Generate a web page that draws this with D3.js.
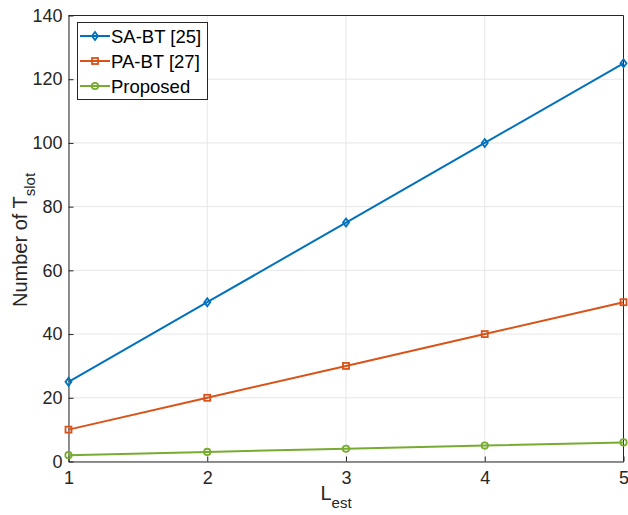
<!DOCTYPE html>
<html><head><meta charset="utf-8">
<script src="https://cdn.jsdelivr.net/npm/d3@7"></script>
<style>body{margin:0;background:#fff}svg{font-family:"Liberation Sans",Arial,sans-serif}</style>
</head><body><svg id="c" width="628" height="515"></svg>
<script>
const xValues = [1, 2, 3, 4, 5];
const saBT = [25, 50, 75, 100, 125];
const paBT = [10, 20, 30, 40, 50];
const proposed = [2, 3, 4, 5, 6];
const xTicks = [1, 2, 3, 4, 5];
const yTicks = [0, 20, 40, 60, 80, 100, 120, 140];
const seriesNames = ["SA-BT [25]", "PA-BT [27]", "Proposed"];
const colors = ["#0072BD", "#D95319", "#77AC30"];

const svg = d3.select("#c");
const L = 68.5, R = 623.5, T = 15.5, B = 461.5;
const x = d3.scaleLinear().domain([1, 5]).range([L, R]);
const y = d3.scaleLinear().domain([0, 140]).range([B, T]);

// grid
const g = svg.append("g");
xTicks.forEach(t => g.append("line").attr("x1", x(t)).attr("x2", x(t)).attr("y1", T).attr("y2", B).attr("stroke", "#e6e6e6").attr("stroke-width", 1));
yTicks.forEach(t => g.append("line").attr("x1", L).attr("x2", R).attr("y1", y(t)).attr("y2", y(t)).attr("stroke", "#e6e6e6").attr("stroke-width", 1));

// axes
const xa = svg.append("g").attr("transform", `translate(0,${B})`)
  .call(d3.axisBottom(x).tickValues(xTicks).tickFormat(d3.format("d")).tickSizeInner(-5).tickSizeOuter(0).tickPadding(10));
const ya = svg.append("g").attr("transform", `translate(${L},0)`)
  .call(d3.axisLeft(y).tickValues(yTicks).tickFormat(d3.format("d")).tickSizeInner(-5).tickSizeOuter(0).tickPadding(6));
[xa, ya].forEach(a => {
  a.select(".domain").attr("stroke", "#262626");
  a.selectAll(".tick line").attr("stroke", "#262626");
  a.selectAll("text").attr("fill", "#262626").attr("font-size", 18).attr("font-family", "Liberation Sans, Arial, sans-serif");
});
// top & right box
svg.append("line").attr("x1", L).attr("x2", R).attr("y1", T).attr("y2", T).attr("stroke", "#262626");
svg.append("line").attr("x1", R).attr("x2", R).attr("y1", T).attr("y2", B).attr("stroke", "#262626");

// lines
const series = [saBT, paBT, proposed];
const line = d3.line().x((d, i) => x(xValues[i])).y(d => y(d));
function marker(sel, k, cx, cy) {
  const c = colors[k];
  if (k === 0) {
    sel.append("path").attr("d", `M${cx},${cy-4}L${cx+3},${cy}L${cx},${cy+4}L${cx-3},${cy}Z`).attr("fill", "none").attr("stroke", c).attr("stroke-width", 1.8);
  } else if (k === 1) {
    sel.append("rect").attr("x", cx-3).attr("y", cy-3).attr("width", 6).attr("height", 6).attr("fill", "none").attr("stroke", c).attr("stroke-width", 1.8);
  } else {
    sel.append("circle").attr("cx", cx).attr("cy", cy).attr("r", 3.2).attr("fill", "none").attr("stroke", c).attr("stroke-width", 1.8);
  }
}
series.forEach((s, k) => {
  svg.append("path").datum(s).attr("d", line).attr("fill", "none").attr("stroke", colors[k]).attr("stroke-width", 2);
  s.forEach((v, i) => marker(svg, k, x(xValues[i]), y(v)));
});

// legend
const lg = svg.append("g");
lg.append("rect").attr("x", 77.5).attr("y", 22.5).attr("width", 130).attr("height", 77).attr("fill", "#fff").attr("stroke", "#262626").attr("stroke-width", 1);
seriesNames.forEach((n, k) => {
  const yy = 36 + k * 25;
  lg.append("line").attr("x1", 80).attr("x2", 110).attr("y1", yy).attr("y2", yy).attr("stroke", colors[k]).attr("stroke-width", 2);
  marker(lg, k, 95, yy);
  lg.append("text").attr("x", 111).attr("y", yy + 6.5).attr("font-size", 18.5).attr("fill", "#000").text(n);
});

// axis labels
const xl = svg.append("text").attr("x", 336).attr("y", 500).attr("font-size", 20).attr("fill", "#262626").attr("text-anchor", "middle");
xl.append("tspan").text("L");
xl.append("tspan").attr("font-size", 15).attr("dy", 8).text("est");

const yl = svg.append("text").attr("transform", "translate(27,240) rotate(-90)").attr("font-size", 20).attr("fill", "#262626").attr("text-anchor", "middle");
yl.append("tspan").text("Number of T");
yl.append("tspan").attr("font-size", 15).attr("dy", 8).text("slot");
</script></body></html>
